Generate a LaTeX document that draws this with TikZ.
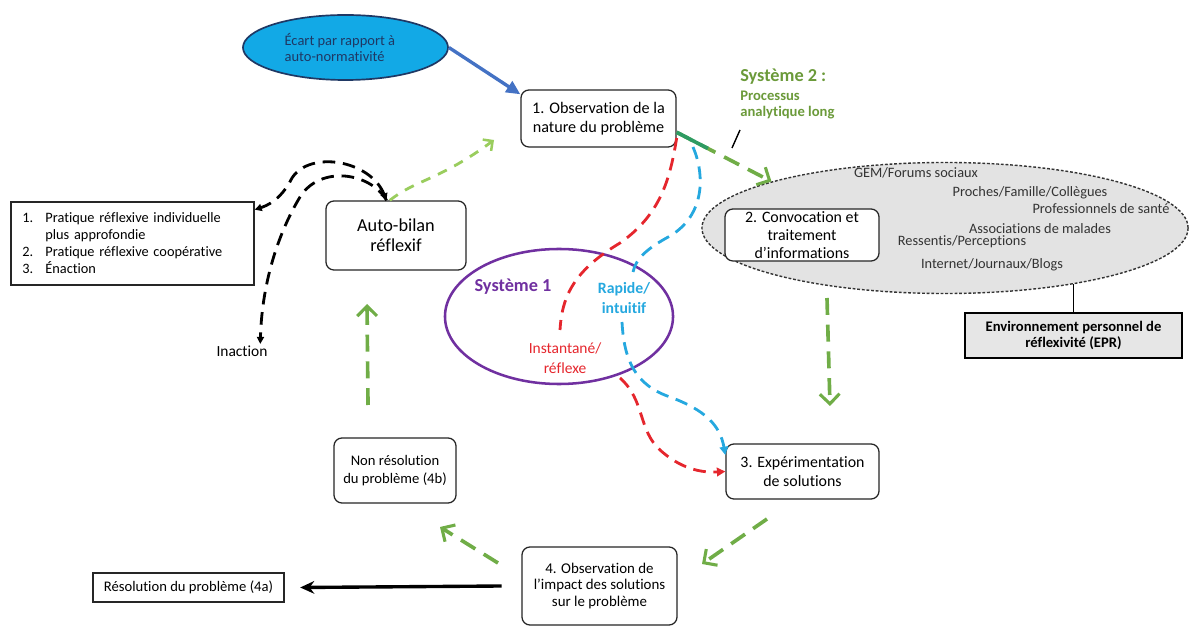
\documentclass[tikz,border=0pt]{standalone}
\usepackage{fontspec}
\setmainfont{Carlito}[Ligatures={NoCommon}]
\usetikzlibrary{arrows.meta,shapes.geometric,calc}
\definecolor{ggreen}{HTML}{70AD47}
\definecolor{gtext}{HTML}{6B9A3A}
\definecolor{gteal}{HTML}{2E9B63}
\definecolor{lgreen}{HTML}{9ACD5E}
\definecolor{bfill}{HTML}{12A9E6}
\definecolor{cnavy}{HTML}{1F3864}
\definecolor{barrow}{HTML}{4472C4}
\definecolor{rred}{HTML}{E5262D}
\definecolor{ublue}{HTML}{25A8DF}
\definecolor{purp}{HTML}{7030A0}
\definecolor{lgray}{HTML}{E3E3E3}
\definecolor{dgray}{HTML}{333333}
\definecolor{eprfill}{HTML}{E6E6E6}
\definecolor{boxc}{HTML}{262626}
\newcommand{\myfs}[2]{\fontsize{#1}{#2}\selectfont}
\begin{document}
\begin{tikzpicture}[x=0.025cm,y=-0.025cm,
  box/.style={draw=boxc, line width=0.9pt, rounded corners=0.2cm, align=center, inner sep=1pt, fill=white},
  sq/.style={draw=boxc, line width=1pt, inner sep=1pt, fill=white},
  etext/.style={text=dgray, font=\myfs{10.2}{12}, inner sep=0pt},
  gdash/.style={draw=ggreen, line width=2.6pt, dash pattern=on 12pt off 7pt, -{Straight Barb[length=7pt,width=14pt,line width=2.2pt]}},
  lgdash/.style={draw=lgreen, line width=2pt, dash pattern=on 7pt off 6pt, -{Straight Barb[length=5pt,width=10pt,line width=1.8pt]}},
  rdash/.style={draw=rred, line width=2pt, dash pattern=on 9pt off 5.5pt},
  udash/.style={draw=ublue, line width=2pt, dash pattern=on 9pt off 5.5pt},
  kdash/.style={draw=black, line width=2pt, dash pattern=on 9pt off 5.5pt},
  smalltip/.style={-{Triangle[length=6pt,width=6pt]}}
]
\useasboundingbox (0,0) rectangle (1190,628);

% environment ellipse
\node[ellipse, draw=dgray, dash pattern=on 2pt off 1.3pt, line width=1pt, fill=lgray,
      minimum width=12.15cm, minimum height=3.275cm, inner sep=0pt] (gEll) at (945,228) {};

% nodes
\node[ellipse, draw=cnavy, line width=1.2pt, fill=bfill, minimum width=5.125cm, minimum height=1.625cm,
      inner sep=0pt, align=left, text=cnavy, font=\myfs{10.3}{12}] (bEll) at (345.5,47.5)
      {Écart par rapport à\hspace*{8pt}\\auto-normativité\hspace*{8pt}};
\node[box, minimum width=3.875cm, minimum height=1.425cm, font=\myfs{11.5}{13.5}] (b1) at (598.5,118.5)
      {1. Observation de la\\nature du problème};
\node[box, minimum width=3.85cm, minimum height=1.3cm, font=\myfs{11.3}{12.6}] (b2) at (802,235)
      {2. Convocation et\\traitement\\d’informations};
\node[box, minimum width=3.825cm, minimum height=1.375cm, font=\myfs{11.3}{13}] (b3) at (802.5,471.5)
      {3. Expérimentation\\de solutions};
\node[box, minimum width=3.875cm, minimum height=1.95cm, font=\myfs{10.6}{11.6}] (b4) at (599.5,586)
      {4. Observation de\\l’impact des solutions\\sur le problème};
\node[box, minimum width=3.05cm, minimum height=1.625cm, font=\myfs{10.4}{12.8}] (b4b) at (395,470.5)
      {Non résolution\\du problème (4b)};
\node[box, minimum width=3.5cm, minimum height=1.725cm, font=\myfs{13}{14.5}] (ab) at (396,235.5)
      {Auto-bilan\\réflexif};
\node[sq, minimum width=4.775cm, minimum height=0.725cm, font=\myfs{10.4}{12}] (res) at (188.5,587.5)
      {Résolution du problème (4a)};
\node[sq, text width=5.5cm, inner xsep=0.2875cm, minimum height=2.075cm, align=left, font=\myfs{10.2}{12.1}] (list) at (132.5,243.5)
      {\makebox[16.3pt][l]{1.}Pratique réflexive individuelle\\\hspace*{16.3pt}plus approfondie\\\makebox[16.3pt][l]{2.}Pratique réflexive coopérative\\\makebox[16.3pt][l]{3.}Énaction};
\node[font=\myfs{11}{13}, inner sep=1pt] (inaction) at (242,351) {Inaction};

% environment texts
\node[etext] (i1) at (916,173) {GEM/Forums sociaux};
\node[etext] (i2) at (1030,193) {Proches/Famille/Collègues};
\node[etext] (i3) at (1101,209) {Professionnels de santé};
\node[etext] (i4) at (1040,229) {Associations de malades};
\node[etext] (i5) at (962,242) {Ressentis/Perceptions};
\node[etext] (i6) at (992,265) {Internet/Journaux/Blogs};
\node[draw=black, line width=1.6pt, fill=eprfill, minimum width=5.425cm, minimum height=1.125cm, align=center,
      font=\bfseries\myfs{10.4}{12}] (epr) at (1073.5,335.5) {Environnement personnel de\\réflexivité (EPR)};
\draw[line width=1.3pt] (epr.north) -- (epr.north |- gEll.-23.4);

% systeme 2 labels
\node[anchor=west, text=gtext, font=\bfseries\myfs{13}{15}, inner sep=0pt] (s2) at (740,77) {Système 2 :};
\node[anchor=west, align=left, text=gtext, font=\bfseries\myfs{10.4}{11.4}, inner sep=0pt] (s2b) at (740,105)
      {Processus\\analytique long};
\coordinate (c1) at (740,130);
\coordinate (c2) at (732,148);
\draw[line width=1pt] (c1) -- (c2);

% systeme 1
\node[ellipse, draw=purp, line width=1.8pt, minimum width=5.7cm, minimum height=3.375cm, inner sep=0pt] (pEll) at (559,316.5) {};
\node[text=purp, font=\bfseries\myfs{13}{15}, inner sep=0pt] (sys1) at (513,287) {Système 1};
\node[text=ublue, font=\bfseries\myfs{11.2}{14}, align=center, inner sep=0pt] (rap) at (624,298) {Rapide/\\intuitif};
\node[text=rred, font=\myfs{11}{14}, align=center, inner sep=0pt] (inst) at (565,358) {Instantané/\\réflexe};

% blue arrow
\draw[draw=barrow, line width=2.4pt, -{Triangle[length=10pt,width=9pt]}] (bEll.east) -- ([yshift=-3.5pt]b1.north west);

% green cycle
\draw[gdash] (b1.-10) -- (gEll.165);
\draw[draw=gteal, line width=2.6pt] (b1.-10) -- ($(b1.-10)!0.33!(gEll.165)$);
\coordinate (g2s) at (827,298);
\coordinate (g2e) at (830,406);
\draw[gdash] (g2s) -- (g2e);
\coordinate (g3s) at (767,519);
\coordinate (g3e) at (702,564);
\draw[gdash] (g3s) -- (g3e);
\coordinate (g4s) at (498,563);
\coordinate (g4e) at (440,527);
\draw[gdash] (g4s) -- (g4e);
\coordinate (g5s) at (368,405);
\coordinate (g5e) at (367,304);
\draw[gdash] (g5s) -- (g5e);
\coordinate (lg) at (494,140);
\draw[lgdash] (ab.100) .. controls (415,180) and (440,180) .. (lg);

% red and blue (systeme 1)
\coordinate (r1e) at (560,330);
\draw[rdash] (b1.-14) .. controls (670,180) and (660,215) .. (620,243) .. controls (575,270) and (562,295) .. (r1e);
\coordinate (r2s) at (620,378);
\draw[rdash, smalltip] (r2s) .. controls (645,400) and (638,430) .. (660,450) .. controls (680,468) and (700,473) .. (b3.west);
\coordinate (u1s) at (693,147);
\coordinate (u1e) at (633,272);
\draw[udash] (u1s) .. controls (705,175) and (705,215) .. (670,236) .. controls (648,248) and (636,258) .. (u1e);
\coordinate (u2s) at (622,322);
\draw[udash, smalltip] (u2s) .. controls (624,360) and (635,385) .. (670,397) .. controls (705,410) and (720,425) .. (b3.168);

% black dashed arcs
\draw[kdash, {Triangle[length=5pt,width=5pt]}-{Triangle[length=5pt,width=5pt]}] (ab.105) .. controls (370,160) and (310,150) .. (292,178) .. controls (285,192) and (275,203) .. ([yshift=-6pt]list.north east);
\draw[kdash, -{Triangle[length=5pt,width=5pt]}] (ab.105) .. controls (370,172) and (320,165) .. (300,197) .. controls (280,230) and (262,280) .. ([xshift=13pt]inaction.north);

% resolution arrow
\draw[line width=2.4pt, -{Stealth[length=10pt,width=9pt]}] ([xshift=-14pt]b4.west) -- ([xshift=11pt]res.east);
\end{tikzpicture}
\end{document}
